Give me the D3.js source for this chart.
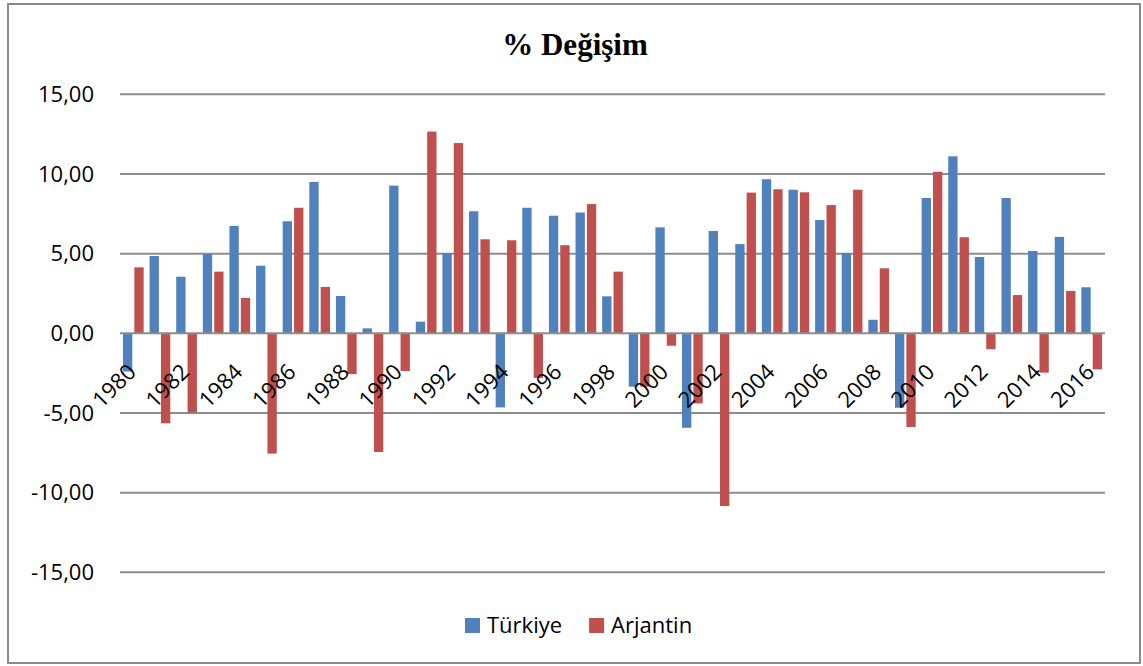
<!DOCTYPE html>
<html>
<head>
<meta charset="utf-8">
<script src="https://cdn.jsdelivr.net/npm/d3@7"></script>
<style>
	body { margin: 0; background: #fff; }
	text { font-family: 'Open Sans', 'Liberation Sans', sans-serif; }
</style>
</head>
<body>
<div class="chart-wrapper"></div>
<script>

const years = d3.range(1980, 2017)

const seriesNames = ['Türkiye', 'Arjantin']

const turkiye = [-2.4, 4.85, 3.55, 4.98, 6.74, 4.24, 7.03, 9.5, 2.34, 0.31, 9.27, 0.73, 5.04, 7.66, -4.65, 7.88, 7.38, 7.58, 2.32, -3.35, 6.65, -5.93, 6.42, 5.6, 9.67, 9.01, 7.11, 5.04, 0.85, -4.67, 8.49, 11.11, 4.79, 8.49, 5.17, 6.05, 2.89]

const arjantin = [4.14, -5.65, -4.96, 3.87, 2.22, -7.55, 7.88, 2.91, -2.56, -7.45, -2.37, 12.66, 11.94, 5.9, 5.84, -2.8, 5.53, 8.11, 3.87, -3.35, -0.78, -4.4, -10.84, 8.83, 9.04, 8.85, 8.05, 9.01, 4.08, -5.88, 10.14, 6.03, -1.0, 2.4, -2.47, 2.66, -2.26]

const yTicks = [-15, -10, -5, 0, 5, 10, 15]

const xTickLabels = years.filter(y => y % 2 == 0)

const colors = ['#4F81BD', '#C0504D']

const width = 1143
const height = 666

const svg = d3.select('.chart-wrapper')
.append('svg')
.attr('width', width)
.attr('height', height)

// chart frame
svg.append('rect')
.attr('x', 8)
.attr('y', 4)
.attr('width', 1132)
.attr('height', 659)
.attr('fill', '#fff')
.attr('stroke', '#8a8a8a')
.attr('stroke-width', 2)

svg.append('text')
.attr('x', 575)
.attr('y', 55)
.attr('text-anchor', 'middle')
.style('font-family', "'Liberation Serif', 'Times New Roman', serif")
.style('font-weight', 'bold')
.style('font-size', '31px')
.text('% Değişim')

const x = d3.scaleBand()
.domain(years)
.range([120, 1105])
.padding(0)

const xInner = d3.scaleBand()
.domain(seriesNames)
.range([0, x.bandwidth()])
.paddingInner(0.18)
.paddingOuter(0.26)

const y = d3.scaleLinear()
.domain([-15, 15])
.range([572.3, 94.3])

const fmt = v => d3.format('.2f')(v).replace('.', ',').replace('−', '-')

// gridlines
svg.append('g')
.selectAll('line')
.data(yTicks.filter(t => t != 0))
.enter()
.append('line')
.attr('x1', 120)
.attr('x2', 1105)
.attr('y1', d => y(d))
.attr('y2', d => y(d))
.attr('stroke', '#8c8c8c')
.attr('stroke-width', 2)

svg.append('g')
.selectAll('text')
.data(yTicks)
.enter()
.append('text')
.attr('x', 94)
.attr('y', d => y(d))
.attr('dy', '0.35em')
.attr('text-anchor', 'end')
.style('font-size', '22px')
.attr('fill', '#000')
.text(d => fmt(d))

const rows = years.map((yr, i) => ({year: yr, values: [turkiye[i], arjantin[i]]}))

svg.append('g')
.selectAll('g')
.data(rows)
.enter()
.append('g')
.attr('transform', d => `translate(${x(d.year)},0)`)
.selectAll('rect')
.data(d => d.values.map((v, j) => ({name: seriesNames[j], value: v, color: colors[j]})))
.enter()
.append('rect')
.attr('x', d => xInner(d.name))
.attr('width', xInner.bandwidth())
.attr('y', d => y(Math.max(0, d.value)))
.attr('height', d => Math.abs(y(d.value) - y(0)))
.attr('fill', d => d.color)

// zero axis
svg.append('line')
.attr('x1', 120)
.attr('x2', 1105)
.attr('y1', y(0))
.attr('y2', y(0))
.attr('stroke', '#8c8c8c')
.attr('stroke-width', 2)

svg.append('g')
.selectAll('text')
.data(xTickLabels)
.enter()
.append('text')
.attr('transform', d => `translate(${x(d) + x.bandwidth() / 2 + 4},${y(0) + 40}) rotate(-45)`)
.attr('text-anchor', 'end')
.style('font-size', '22px')
.attr('fill', '#000')
.text(d => d)

// legend
const legend = svg.append('g')
.attr('transform', 'translate(465,618)')

let offset = 0
seriesNames.forEach((name, i) => {
	const item = legend.append('g')
	.attr('transform', `translate(${offset},0)`)

	item.append('rect')
	.attr('width', 15)
	.attr('height', 15)
	.attr('fill', colors[i])

	const label = item.append('text')
	.attr('x', 22)
	.attr('y', 15)
	.style('font-size', '22px')
	.text(name)

	offset += 22 + label.node().getComputedTextLength() + 27
})

</script>
</body>
</html>
